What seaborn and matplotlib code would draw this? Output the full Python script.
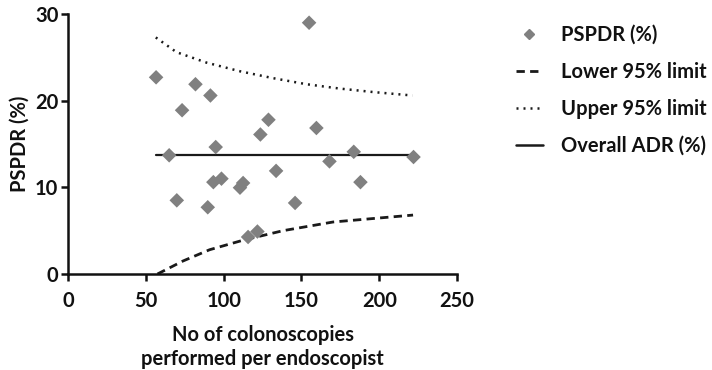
import matplotlib
matplotlib.use("Agg")
import matplotlib.pyplot as plt
import seaborn as sns
import pandas as pd
from matplotlib.lines import Line2D

# Per-endoscopist colonoscopy counts and PSPDR (%)
n_colonoscopies = [56.6, 65, 69.9, 73.3, 81.9, 89.8, 91.5, 93.4, 94.9, 98.6,
                   110.5, 112.5, 115.7, 121.7, 123.6, 128.8, 133.7, 145.9,
                   154.9, 159.6, 168, 183.6, 187.9, 222]
pspdr = [22.7, 13.7, 8.5, 18.9, 21.9, 7.7, 20.6, 10.6, 14.65, 11.0,
         9.96, 10.5, 4.27, 4.9, 16.1, 17.8, 11.9, 8.2,
         29.0, 16.85, 13.0, 14.1, 10.6, 13.5]

# Overall ADR reference line
adr_x = [56.6, 222]
adr_y = [13.7, 13.7]

# 95% control limits
upper_x = [56.4, 69.7, 88.9, 110.4, 131.8, 153.3, 174.6, 196, 221.3]
upper_y = [27.3, 25.6, 24.4, 23.4, 22.6, 21.9, 21.4, 21.0, 20.6]
lower_x = [57.5, 73.9, 91, 112.5, 138.2, 170.3, 202.4, 221.7]
lower_y = [0.0, 1.5, 2.8, 3.9, 5.0, 6.0, 6.5, 6.8]

x_ticks = [0, 50, 100, 150, 200, 250]
y_ticks = [0, 10, 20, 30]

FS = 14.5
INK = "#111111"
LINE = "#1a1a1a"
DASH = (0, (3.0, 1.9))
DOT = (0, (0.8, 2.0))

sns.set_theme(style="ticks")
plt.rcParams["font.family"] = ["Lato", "DejaVu Sans"]
plt.rcParams["font.weight"] = "bold"

fig = plt.figure(figsize=(7.12, 3.70), dpi=100)
ax = fig.add_axes([0.0955, 0.2595, 0.5465, 0.7025])

pts = pd.DataFrame({"n": n_colonoscopies, "pspdr": pspdr})
sns.scatterplot(data=pts, x="n", y="pspdr", ax=ax, marker="D", s=55,
                color="#808080", edgecolor="none", zorder=3)

sns.lineplot(x=lower_x, y=lower_y, ax=ax, color=LINE, lw=2.0,
             linestyle=DASH, sort=True, zorder=2)
sns.lineplot(x=upper_x, y=upper_y, ax=ax, color=LINE, lw=1.8,
             linestyle=DOT, sort=True, zorder=2)
sns.lineplot(x=adr_x, y=adr_y, ax=ax, color=LINE, lw=1.6, zorder=2)

ax.set_xlim(0, 250)
ax.set_ylim(0, 30)
ax.set_xticks(x_ticks)
ax.set_yticks(y_ticks)
for s in ["top", "right"]:
    ax.spines[s].set_visible(False)
for s in ["left", "bottom"]:
    ax.spines[s].set_linewidth(1.8)
    ax.spines[s].set_color(INK)
ax.tick_params(axis="both", direction="out", length=5, width=1.8,
               color=INK, labelsize=FS, labelcolor=INK)
ax.tick_params(axis="x", pad=7)
ax.tick_params(axis="y", pad=2)
for lab in ax.get_xticklabels() + ax.get_yticklabels():
    lab.set_fontweight("bold")

ax.set_xlabel("No of colonoscopies\nperformed per endoscopist", fontsize=FS,
              fontweight="bold", color=INK, labelpad=10, linespacing=1.25,
              ha="center", multialignment="center")
ax.set_ylabel("PSPDR (%)", fontsize=FS, fontweight="bold", color=INK,
              labelpad=4)

handles = [
    Line2D([], [], marker="D", color="#808080", linestyle="none", markersize=5),
    Line2D([], [], color=LINE, lw=2.0, linestyle=DASH),
    Line2D([], [], color=LINE, lw=1.8, linestyle=DOT),
    Line2D([], [], color=LINE, lw=1.8),
]
labels = ["PSPDR (%)", "Lower 95% limit", "Upper 95% limit", "Overall ADR (%)"]
leg = fig.legend(handles, labels, loc="upper left",
                 bbox_to_anchor=(0.699, 0.982), frameon=False,
                 prop={"family": "Lato", "weight": "bold", "size": FS},
                 handlelength=1.35, handletextpad=0.9, labelspacing=0.85)
for t in leg.get_texts():
    t.set_color(INK)

fig.savefig("out.png", dpi=100, facecolor="white")
